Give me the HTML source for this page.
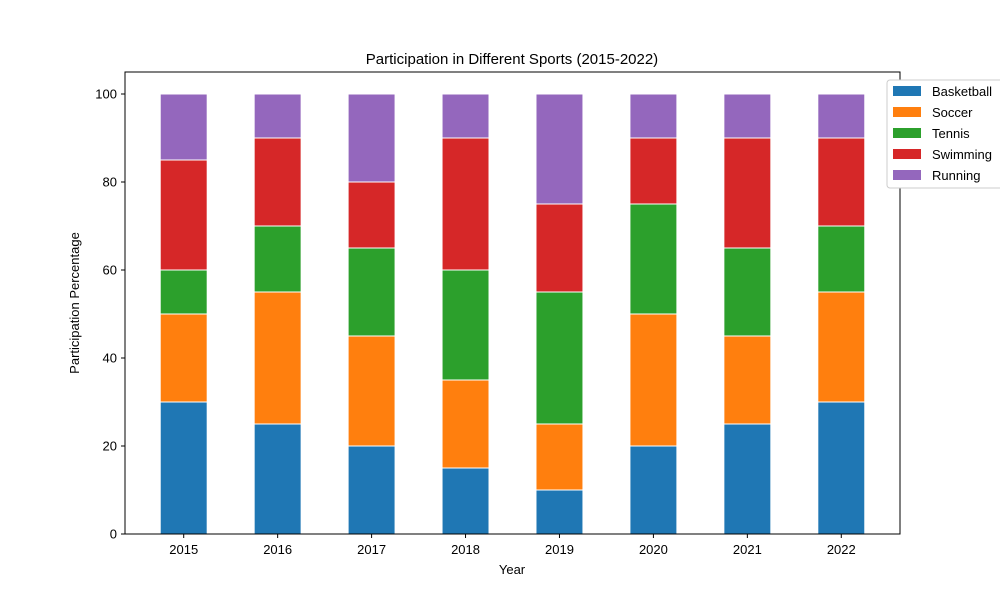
<!DOCTYPE html>
<html><head><meta charset="utf-8"><style>
body{margin:0;background:#fff;}
svg{display:block;font-family:"Liberation Sans","DejaVu Sans",sans-serif;}
</style></head><body>
<svg id="chart" width="1000" height="600" viewBox="0 0 1000 600">
<rect width="1000" height="600" fill="#fff"/>
<text x="512" y="64" text-anchor="middle" font-size="15">Participation in Different Sports (2015-2022)</text>
<g id="bars"></g>
<rect x="125" y="72" width="775" height="462" fill="none" stroke="#000" stroke-width="1"/>
<g id="xticks"></g>
<g id="yticks"></g>
<text x="512" y="574" text-anchor="middle" font-size="13">Year</text>
<text transform="translate(79,303) rotate(-90)" text-anchor="middle" font-size="13">Participation Percentage</text>
<g id="legend"></g>
</svg>
<script>
const categories = ['2015','2016','2017','2018','2019','2020','2021','2022'];
const seriesNames = ['Basketball','Soccer','Tennis','Swimming','Running'];
const basketball = [30,25,20,15,10,20,25,30];
const soccer = [20,30,25,20,15,30,20,25];
const tennis = [10,15,20,25,30,25,20,15];
const swimming = [25,20,15,30,20,15,25,20];
const running = [15,10,20,10,25,10,10,10];
const yTicks = [0,20,40,60,80,100];
const colors = ['#1f77b4','#ff7f0e','#2ca02c','#d62728','#9467bd'];
const series = [basketball,soccer,tennis,swimming,running];
const NS='http://www.w3.org/2000/svg';
const x0=125,x1=900,y0=534,y1=72;
function xs(i){return x0+(i+0.625)/8.25*(x1-x0);}
function ys(v){return y0-v/105*(y0-y1);}
function mk(t,a,p){const e=document.createElementNS(NS,t);for(const k in a)e.setAttribute(k,a[k]);p.appendChild(e);return e;}
const bars=document.getElementById('bars');
const bw=0.5/8.25*(x1-x0);
categories.forEach((c,i)=>{
  let base=0;
  series.forEach((s,j)=>{
    const r=mk('rect',{x:xs(i)-bw/2,y:ys(base+s[i]),width:bw,height:ys(base)-ys(base+s[i]),fill:colors[j],stroke:'#fff','stroke-width':1},bars);
    
    
    base+=s[i];
  });
});
const xt=document.getElementById('xticks');
categories.forEach((c,i)=>{
  const l=mk('line',{x1:xs(i),x2:xs(i),y1:y0,y2:y0+4,stroke:'#000'},xt);
  
  
  const t=mk('text',{x:xs(i),y:y0+20,'text-anchor':'middle','font-size':13},xt);
  t.textContent=c;
  
  
});
const yt=document.getElementById('yticks');
yTicks.forEach(v=>{
  const l=mk('line',{x1:x0-4,x2:x0,y1:ys(v),y2:ys(v),stroke:'#000'},yt);
  
  
  const t=mk('text',{x:x0-8,y:ys(v)+4.5,'text-anchor':'end','font-size':13},yt);
  t.textContent=v;
  
  
});
const lg=document.getElementById('legend');
const box=mk('rect',{x:887,y:80,width:130,height:108,rx:3,fill:'#fff',stroke:'#ccc'},lg);


seriesNames.forEach((n,j)=>{
  const y=91+j*21;
  const g=mk('g',{},lg);
  
  
  mk('rect',{x:893,y:y-5,width:28,height:10,fill:colors[j]},g);
  const t=mk('text',{x:932,y:y+5,'font-size':13},g);
  t.textContent=n;
});
</script>
</body></html>
